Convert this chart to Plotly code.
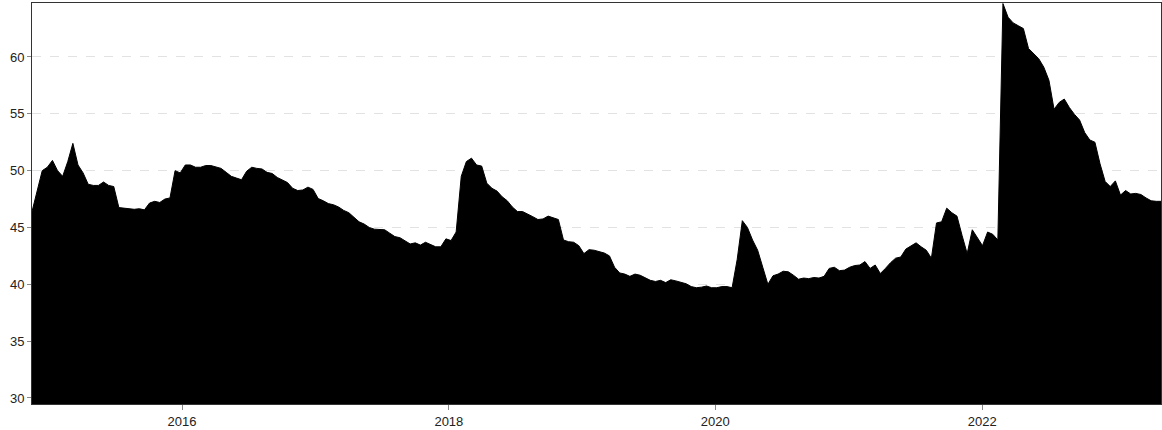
import pandas as pd
import plotly.graph_objects as go

# Bi-weekly observations starting mid-November 2014
START_DATE = "2014-11-16"
FREQ = "14D"

values = [
    46.4, 48.1, 50.0, 50.3, 50.9, 50.0, 49.5, 50.8, 52.4, 50.5,
    49.8, 48.8, 48.7, 48.7, 49.0, 48.7, 48.6, 46.75, 46.7, 46.6,
    46.6, 46.65, 46.55, 47.15, 47.3, 47.2, 47.5, 47.6, 50.0, 49.8,
    50.5, 50.5, 50.3, 50.3, 50.45, 50.45, 50.3, 50.2, 49.85, 49.5,
    49.35, 49.2, 49.95, 50.3, 50.2, 50.15, 49.85, 49.75, 49.4, 49.2,
    48.95, 48.45, 48.25, 48.3, 48.55, 48.35, 47.55, 47.35, 47.1, 47.0,
    46.8, 46.5, 46.3, 45.9, 45.5, 45.3, 45.0, 44.85, 44.8, 44.8,
    44.5, 44.2, 44.1, 43.85, 43.55, 43.65, 43.45, 43.7, 43.5, 43.3,
    43.3, 44.0, 43.85, 44.6, 49.5, 50.8, 51.1, 50.5, 50.4, 48.9,
    48.45, 48.2, 47.7, 47.35, 46.8, 46.4, 46.4, 46.2, 45.95, 45.7,
    45.75, 46.0, 45.85, 45.7, 43.9, 43.75, 43.7, 43.4, 42.7, 43.05,
    43.0, 42.9, 42.75, 42.5, 41.5, 41.0, 40.9, 40.7, 40.9, 40.8,
    40.55, 40.35, 40.25, 40.35, 40.15, 40.4, 40.3, 40.2, 40.05, 39.8,
    39.7, 39.75, 39.85, 39.7, 39.7, 39.8, 39.8, 39.7, 42.2, 45.6,
    45.0, 43.9, 43.0, 41.5, 40.0, 40.75, 40.9, 41.15, 41.1, 40.8,
    40.45, 40.55, 40.5, 40.6, 40.55, 40.7, 41.4, 41.5, 41.2, 41.25,
    41.5, 41.65, 41.7, 42.0, 41.4, 41.7, 40.95, 41.4, 41.9, 42.3,
    42.4, 43.1, 43.4, 43.65, 43.3, 43.0, 42.3, 45.4, 45.5, 46.7,
    46.3, 46.0, 44.3, 42.7, 44.8, 44.1, 43.4, 44.6, 44.4, 43.9,
    64.7, 63.5, 63.0, 62.75, 62.5, 60.75, 60.3, 59.85, 59.1, 57.95,
    55.4, 56.0, 56.3, 55.55, 54.95, 54.45, 53.35, 52.7, 52.5, 50.6,
    49.05, 48.6, 49.1, 47.85, 48.25, 47.95, 48.0, 47.9, 47.6, 47.35,
    47.3, 47.3,
]

y_ticks = [30, 35, 40, 45, 50, 55, 60]
x_range = ["2014-11-16", "2023-05-06"]
y_range = [29.47, 64.75]

dates = pd.date_range(START_DATE, periods=len(values), freq=FREQ)

fig = go.Figure(
    go.Scatter(
        x=dates,
        y=values,
        mode="lines",
        line=dict(color="#000000", width=1),
        fill="tozeroy",
        fillcolor="#000000",
        hoverinfo="x+y",
    )
)

fig.update_layout(
    width=1162,
    height=430,
    margin=dict(l=32, r=1, t=3, b=26, autoexpand=False),
    paper_bgcolor="white",
    plot_bgcolor="white",
    showlegend=False,
    font=dict(family="Liberation Sans, Arial, sans-serif", size=13, color="#222222"),
)

fig.update_xaxes(
    type="date",
    range=x_range,
    tick0="2016-01-01",
    dtick="M24",
    tickformat="%Y",
    ticks="outside",
    ticklen=5,
    tickcolor="#888888",
    showgrid=False,
    showline=True,
    linecolor="#333333",
    linewidth=1,
    mirror=True,
    zeroline=False,
    automargin=False,
)

fig.update_yaxes(
    range=y_range,
    tickvals=y_ticks,
    ticks="outside",
    ticklen=4,
    tickcolor="#888888",
    showgrid=True,
    gridcolor="#e2e2e2",
    griddash="dash",
    gridwidth=1,
    showline=True,
    linecolor="#333333",
    linewidth=1,
    mirror=True,
    zeroline=False,
    automargin=False,
)

fig.write_html(
    "out.html",
    config={"displayModeBar": False},
    post_script="document.body.style.margin='0';document.body.style.padding='0';",
)
